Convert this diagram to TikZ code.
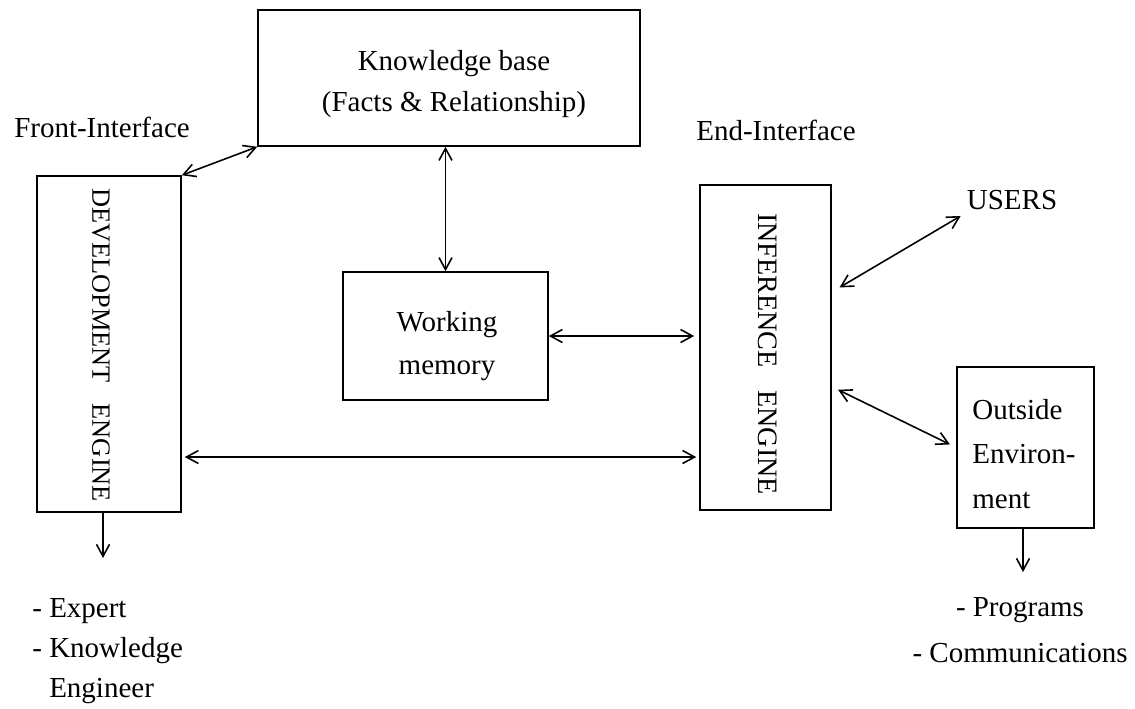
\documentclass[tikz,border=0pt]{standalone}
\usepackage{fontspec}
\setmainfont{Liberation Serif}
\usetikzlibrary{arrows.meta,calc}

\tikzset{
	blk/.style={draw, line width=0.9pt, inner sep=0pt},
	link/.style={line width=0.9pt, {Straight Barb[length=2.4mm,width=2.6mm]}-{Straight Barb[length=2.4mm,width=2.6mm]}},
	oneway/.style={line width=0.9pt, -{Straight Barb[length=2.4mm,width=2.6mm]}},
}

\begin{document}
\begin{tikzpicture}[x=0.02cm, y=-0.02cm, font=\fontsize{16.5}{24}\selectfont]
		\useasboundingbox (0,0) rectangle (1135,708);

		\node[blk, minimum width=7.64cm, minimum height=2.72cm] (kb) at (449,78) {};
		\node[align=center, font=\fontsize{16.5}{23.5}\selectfont] (kbtext) at (454,84) {Knowledge base\\(Facts \& Relationship)};

		\node[blk, minimum width=2.88cm, minimum height=6.72cm] (dev) at (109,344) {};
		\node[rotate=-90, font=\fontsize{15}{18}\selectfont] (devtext) at (101,345) {DEVELOPMENT\hspace{0.8em}ENGINE};

		\node[blk, minimum width=2.62cm, minimum height=6.5cm] (ie) at (765.5,347.5) {};
		\node[rotate=-90, font=\fontsize{16}{18}\selectfont] (ietext) at (768,354) {INFERENCE\hspace{0.8em}ENGINE};

		\node[blk, minimum width=4.1cm, minimum height=2.56cm] (wm) at (445.5,336) {};
		\node[align=center] (wmtext) at (447,346) {Working\\memory};

		\node[blk, minimum width=2.74cm, minimum height=3.22cm] (oe) at (1025.5,447.5) {};
		\node[anchor=west, inner sep=0pt, align=left, font=\fontsize{16.5}{25.5}\selectfont] (oetext) at (972,454) {Outside\\Environ-\\ment};

		\node (front) at (102,127) {Front-Interface};
		\node (endi) at (776,130) {End-Interface};
		\node (users) at (1012,200) {USERS};
		\node[anchor=west, inner sep=0pt, align=left, font=\fontsize{16.5}{22.7}\selectfont] (devlist) at (32,651) {- Expert\\- Knowledge\\\phantom{- }Engineer};
		\node[align=center, font=\fontsize{16.5}{26}\selectfont] (oelist) at (1020,630) {- Programs\\- Communications};

		\draw[link] (kb.south west) -- (dev.north east);
		\draw[link] (wm.north) -- (wm.north |- kb.south);
		\draw[link, shorten >=0.1cm] (wm.east) -- (wm.east -| ie.west);
		\coordinate (mid) at (440,457);
		\draw[link, shorten <=0.06cm, shorten >=0.06cm] (mid -| dev.east) -- (mid -| ie.west);
		\draw[link, shorten <=0.18cm] ($(ie.north east)!0.33!(ie.south east)$) -- (users.south west);
		\draw[link, shorten <=0.14cm, shorten >=0.14cm] ($(ie.north east)!0.62!(ie.south east)$) -- (oe.west);

		\coordinate (devout) at (103,558);
		\draw[oneway] (devout |- dev.south) -- (devout);
		\coordinate (oeout) at (1023,572);
		\draw[oneway] (oeout |- oe.south) -- (oeout);

	\end{tikzpicture}
\end{document}
